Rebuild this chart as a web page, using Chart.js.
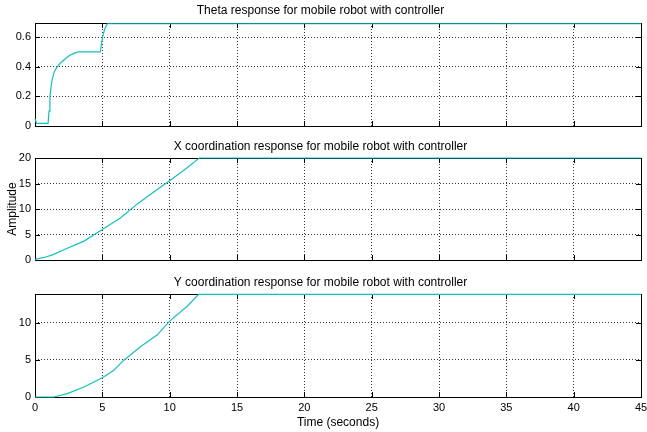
<!DOCTYPE html>
<html>
<head>
<meta charset="utf-8">
<title>Mobile robot responses</title>
<script src="https://cdn.jsdelivr.net/npm/chart.js@4/dist/chart.umd.min.js"></script>
<style>
    body { margin: 0; background: #fff; }
    .panel { position: absolute; left: 0; width: 647px; }
</style>
</head>
<body>
<div class="panel" style="top:0px;height:132px"><canvas id="thetaChart" width="647" height="132"></canvas></div>
<div class="panel" style="top:136px;height:130px"><canvas id="xChart" width="647" height="130"></canvas></div>
<div class="panel" style="top:272px;height:160px"><canvas id="yChart" width="647" height="160"></canvas></div>
<script>
// time axis shared by all three plots
const timeTicks = [0, 5, 10, 15, 20, 25, 30, 35, 40, 45];

// theta response
const thetaTime = [0, 0.12, 0.97, 1.04, 1.11, 1.2, 1.29, 1.45, 1.66, 1.9, 2.15, 2.4, 2.65, 2.9, 3.2, 4.85, 4.93, 5.0, 5.07, 5.2, 5.37, 45];
const thetaVal  = [0.05, 0.018, 0.018, 0.1, 0.2, 0.27, 0.32, 0.37, 0.4, 0.425, 0.445, 0.465, 0.48, 0.49, 0.5, 0.5, 0.55, 0.59, 0.62, 0.66, 0.69, 0.69];
const thetaTicks = [0, 0.2, 0.4, 0.6];

// x coordinate response
const xTime = [0, 0.12, 0.67, 1.3, 2.4, 3.64, 5.0, 6.36, 7.6, 8.84, 10.07, 11.2, 12.2, 45];
const xVal  = [0, 0.2, 0.5, 1.0, 2.3, 3.7, 6.0, 8.3, 11.0, 13.4, 15.7, 17.9, 20, 20];
const xTicks = [0, 5, 10, 15, 20];

// y coordinate response
const yTime = [0, 1.4, 2.4, 3.63, 5.0, 5.85, 6.6, 7.83, 9.06, 10.0, 11.3, 12.15, 45];
const yVal  = [0, 0, 0.45, 1.35, 2.6, 3.6, 4.95, 6.76, 8.33, 10.2, 12.2, 13.8, 13.8];
const yTicks = [0, 5, 10];

const FONT = "'Liberation Sans', Arial, sans-serif";
const LINE_COLOR = "#14c0c0";

// box around the axes plus inward tick marks on all four sides,
// drawn under the data so a flat line on the top edge stays visible
const framePlugin = {
    id: "frame",
    beforeDatasetsDraw(chart) {
        const { ctx, chartArea: a, scales } = chart;
        ctx.save();
        ctx.strokeStyle = "#000";
        ctx.lineWidth = 1;
        ctx.strokeRect(Math.round(a.left) + 0.5, Math.round(a.top) + 0.5,
            Math.round(a.right - a.left), Math.round(a.bottom - a.top));
        const len = 5;
        ctx.beginPath();
        scales.x.ticks.forEach(t => {
            const px = Math.round(scales.x.getPixelForValue(t.value)) + 0.5;
            ctx.moveTo(px, a.bottom); ctx.lineTo(px, a.bottom - len);
            ctx.moveTo(px, a.top); ctx.lineTo(px, a.top + len);
        });
        scales.y.ticks.forEach(t => {
            const py = Math.round(scales.y.getPixelForValue(t.value)) + 0.5;
            ctx.moveTo(a.left, py); ctx.lineTo(a.left + len, py);
            ctx.moveTo(a.right, py); ctx.lineTo(a.right - len, py);
        });
        ctx.stroke();
        ctx.restore();
    }
};

function makeChart(id, opts) {
    const points = opts.time.map((t, i) => ({ x: t, y: opts.values[i] }));
    return new Chart(document.getElementById(id), {
        type: "line",
        data: {
            datasets: [{
                data: points,
                borderColor: LINE_COLOR,
                borderWidth: 1.2,
                pointRadius: 0,
                tension: 0,
                clip: 2
            }]
        },
        options: {
            responsive: false,
            animation: false,
            layout: { padding: { left: 0, right: 6, top: 0, bottom: 0 } },
            plugins: {
                legend: { display: false },
                tooltip: { enabled: false },
                title: {
                    display: true,
                    text: opts.title,
                    color: "#000",
                    font: { family: FONT, size: 12, weight: "normal", lineHeight: 1.2 },
                    padding: { top: 3, bottom: opts.titleGap }
                }
            },
            scales: {
                x: {
                    type: "linear",
                    min: 0,
                    max: 45,
                    afterBuildTicks: s => { s.ticks = timeTicks.map(v => ({ value: v })); },
                    afterFit: s => {
                        s.height = opts.xHeight;
                        s.paddingLeft = 0;
                        s.paddingRight = 0;
                    },
                    grid: { color: "#333", drawTicks: false },
                    border: { display: false, dash: [1, 2] },
                    ticks: {
                        display: opts.showTime,
                        color: "#000",
                        padding: 4,
                        maxRotation: 0,
                        font: { family: FONT, size: 11 }
                    },
                    title: {
                        display: opts.showTime,
                        text: "Time (seconds)",
                        color: "#000",
                        font: { family: FONT, size: 12 },
                        padding: { top: 0, bottom: 2 }
                    }
                },
                y: {
                    min: 0,
                    max: opts.yMax,
                    afterBuildTicks: s => { s.ticks = opts.ticks.map(v => ({ value: v })); },
                    afterFit: s => {
                        s.width = 35;
                        s.paddingTop = 0;
                        s.paddingBottom = 0;
                    },
                    grid: { color: "#333", drawTicks: false },
                    border: { display: false, dash: [1, 2] },
                    ticks: {
                        color: "#000",
                        padding: 4,
                        font: { family: FONT, size: 11 }
                    },
                    title: {
                        display: !!opts.yTitle,
                        text: opts.yTitle || "",
                        color: "#000",
                        font: { family: FONT, size: 12 },
                        padding: { top: 5, bottom: 0 }
                    }
                }
            }
        },
        plugins: [framePlugin]
    });
}

makeChart("thetaChart", {
    title: "Theta response for mobile robot with controller",
    time: thetaTime, values: thetaVal, ticks: thetaTicks,
    yMax: 0.695, titleGap: 5.6, xHeight: 6, showTime: false
});

makeChart("xChart", {
    title: "X coordination response for mobile robot with controller",
    time: xTime, values: xVal, ticks: xTicks,
    yMax: 20, titleGap: 4.6, xHeight: 6, showTime: false, yTitle: "Amplitude"
});

makeChart("yChart", {
    title: "Y coordination response for mobile robot with controller",
    time: yTime, values: yVal, ticks: yTicks,
    yMax: 13.85, titleGap: 4.6, xHeight: 35, showTime: true
});
</script>
</body>
</html>
